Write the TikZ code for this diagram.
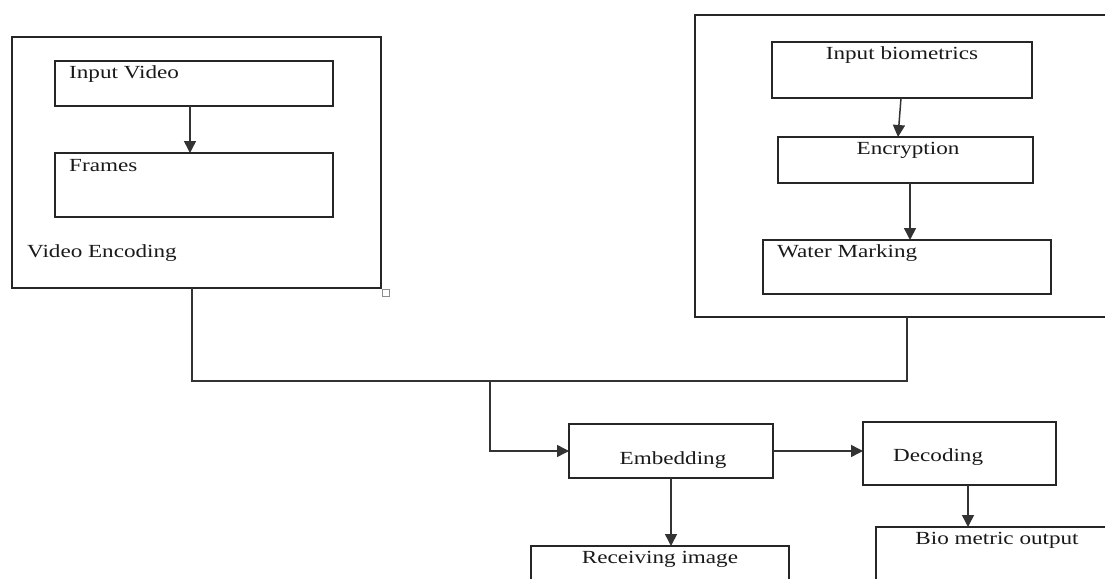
\documentclass[tikz,border=0pt]{standalone}
\usepackage{fontspec}
\setmainfont{Liberation Serif}[FakeStretch=1.25]
\usetikzlibrary{arrows.meta}
\begin{document}
\begin{tikzpicture}[x=1pt,y=-1pt,
  box/.style={draw=black!85, line width=1.3pt, inner sep=0pt, outer sep=0pt},
  lbl/.style={font=\fontsize{18.5}{20}\selectfont, inner sep=0pt, text=black!90},
  conn/.style={draw=black!80, line width=1.5pt},
  arr/.style={conn, -{Triangle[length=12pt,width=12pt]}}]
\useasboundingbox (0,0) rectangle (1105,578);
\clip (0,0) rectangle (1105,578);
% boxes
\node[box, minimum width=369pt, minimum height=251pt] (outerL) at (196.5,162.5) {};
\node[box, minimum width=278pt, minimum height=45pt] (iv) at (194,83.5) {};
\node[box, minimum width=278pt, minimum height=64pt] (fr) at (194,185) {};
\node[draw=black!45, line width=0.8pt, minimum size=7pt, inner sep=0pt] (handle) at (385.5,292.5) {};
\node[box, minimum width=424pt, minimum height=302pt] (outerR) at (907,166) {};
\node[box, minimum width=260pt, minimum height=56pt] (ib) at (902,70) {};
\node[box, minimum width=255pt, minimum height=46pt] (enc) at (905.5,160) {};
\node[box, minimum width=288pt, minimum height=54pt] (wm) at (907,267) {};
\node[box, minimum width=204pt, minimum height=54pt] (emb) at (671,451) {};
\node[box, minimum width=193pt, minimum height=63pt] (dec) at (959.5,453.5) {};
\node[box, minimum width=258pt, minimum height=74pt] (rec) at (660,583) {};
\node[box, minimum width=254pt, minimum height=93pt] (bio) at (1003,573.5) {};
% texts
\node[lbl, anchor=west] (tiv) at (69,74) {Input Video};
\node[lbl, anchor=west] (tfr) at (69,166) {Frames};
\node[lbl, anchor=west] (tve) at (27,253) {Video Encoding};
\node[lbl] (tib) at (902,55) {Input biometrics};
\node[lbl] (tenc) at (908,150) {Encryption};
\node[lbl, anchor=west] (twm) at (777,253) {Water Marking};
\node[lbl] (temb) at (673,460) {Embedding};
\node[lbl, anchor=west] (tdec) at (893,457) {Decoding};
\node[lbl] (trec) at (660,559) {Receiving image};
\node[lbl] (tbio) at (997,540) {Bio metric output};
% connectors
\draw[arr] ([xshift=-4pt]iv.south) -- ([xshift=-4pt]fr.north);
\draw[arr] ([xshift=-1pt]ib.south) -- ([xshift=-7.5pt]enc.north);
\draw[arr] ([xshift=4.5pt]enc.south) -- ([xshift=3pt]wm.north);
\coordinate (j) at (490,381);
\draw[conn] ([xshift=-4.5pt]outerL.south) |- (outerR.south |- j) -- (outerR.south);
\draw[arr] (j) |- (emb.west);
\draw[arr] (emb.east) -- (emb.east -| dec.west);
\draw[arr] (emb.south) -- (emb.south |- rec.north);
\draw[arr] ([xshift=8.5pt]dec.south) -- ([xshift=8.5pt]dec.south |- bio.north);
\end{tikzpicture}
\end{document}
